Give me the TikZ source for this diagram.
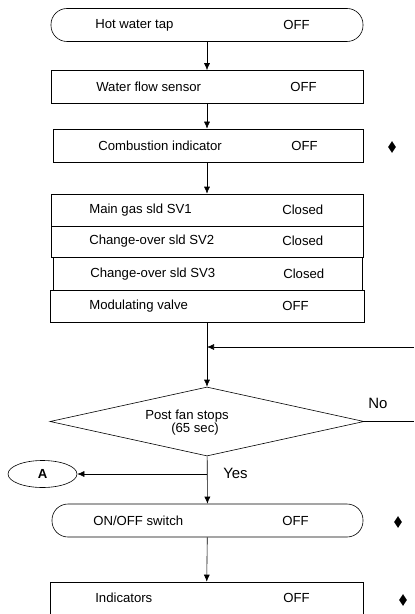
\documentclass[tikz,border=0pt]{standalone}
\usepackage{fontspec}
\setmainfont{Liberation Sans}
\usetikzlibrary{arrows.meta,shapes.geometric}

\tikzset{
  box/.style={draw, rectangle, minimum width=312bp, minimum height=33bp, inner sep=0pt},
  terminal/.style={box, rounded corners=16bp},
  txt/.style={anchor=west, inner sep=0pt, font=\fontsize{13.2}{15}\selectfont},
  flag/.style={diamond, fill=black, inner sep=0pt, minimum width=8bp, minimum height=12bp},
  flow/.style={-{Latex[length=7bp,width=6bp]}}
}

\begin{document}
\begin{tikzpicture}[x=1bp,y=1bp,yscale=-1,xscale=1,line width=0.6bp]
        \useasboundingbox (0,0) rectangle (414,614);

        % Boxes
        \node [terminal] (tap) at (207,25) {};
        \node [box] (sensor) at (207,87) {};
        \node [box, minimum width=310bp] (comb) at (208,145.5) {};
        \node [box, minimum height=32bp] (sv1) at (207,210) {};
        \node [box, minimum height=31bp] (sv2) at (207,241.5) {};
        \node [box, minimum width=309bp] (sv3) at (207.5,273.5) {};
        \node [box, minimum width=314bp, minimum height=32bp] (modv) at (207,306) {};
        \node [draw, diamond, inner sep=0pt, minimum width=314bp, minimum height=69bp] (fan) at (207,421.5) {};
        \node [draw, ellipse, inner sep=0pt, minimum width=69bp, minimum height=27bp] (A) at (42.5,474) {\bfseries\fontsize{13.2}{15}\selectfont A};
        \node [terminal, minimum width=311bp] (onoff) at (207.5,520.5) {};
        \node [box, minimum width=313bp, minimum height=34bp] (ind) at (206.5,599) {};

        % Markers
        \node [flag] (m1) at (392,147) {};
        \node [flag] (m2) at (398,522) {};
        \node [flag] (m3) at (403,600) {};

        % Connectors
        \coordinate (ret) at (414,347);
        \coordinate (noend) at (414,421.5);
        \coordinate (yes) at (207,474);
        \draw [flow] (tap) -- (sensor);
        \draw [flow] (sensor) -- (comb.north -| sensor);
        \draw [flow] (comb.south -| sensor) -- (sv1);
        \draw [flow] (modv) -- (fan);
        \draw [flow] (ret) -- (modv.south |- ret);
        \draw (fan.east) -- (noend);
        \draw [flow] (fan) -- (onoff);
        \draw [flow] (yes) -- (A);
        \draw [flow] (onoff) -- (ind);

        % Text Node
        \node [txt] (t1) at (95,25) {Hot water tap};
        \node [txt] (s1) at (283,25) {OFF};
        \node [txt] (t2) at (96,87) {Water flow sensor};
        \node [txt] (s2) at (290,87) {OFF};
        \node [txt] (t3) at (98,146) {Combustion indicator};
        \node [txt] (s3) at (291,146) {OFF};
        \node [txt] (t4) at (89,210) {Main gas sld SV1};
        \node [txt] (s4) at (282,210) {Closed};
        \node [txt] (t5) at (89,241) {Change-over sld SV2};
        \node [txt] (s5) at (282,241) {Closed};
        \node [txt] (t6) at (90,274) {Change-over sld SV3};
        \node [txt] (s6) at (283,274) {Closed};
        \node [txt] (t7) at (89,306) {Modulating valve};
        \node [txt] (s7) at (282,306) {OFF};
        \node [txt, anchor=center] (q1) at (187,416) {Post fan stops};
        \node [txt, anchor=center] (q2) at (195,429) {(65 sec)};
        \node [txt, font=\fontsize{15}{17}\selectfont] (no) at (368,403) {No};
        \node [txt, font=\fontsize{15}{17}\selectfont] (yeslbl) at (223,473) {Yes};
        \node [txt] (t8) at (93,521) {ON/OFF switch};
        \node [txt] (s8) at (282,521) {OFF};
        \node [txt] (t9) at (95,598) {Indicators};
        \node [txt] (s9) at (283,598) {OFF};
\end{tikzpicture}
\end{document}
